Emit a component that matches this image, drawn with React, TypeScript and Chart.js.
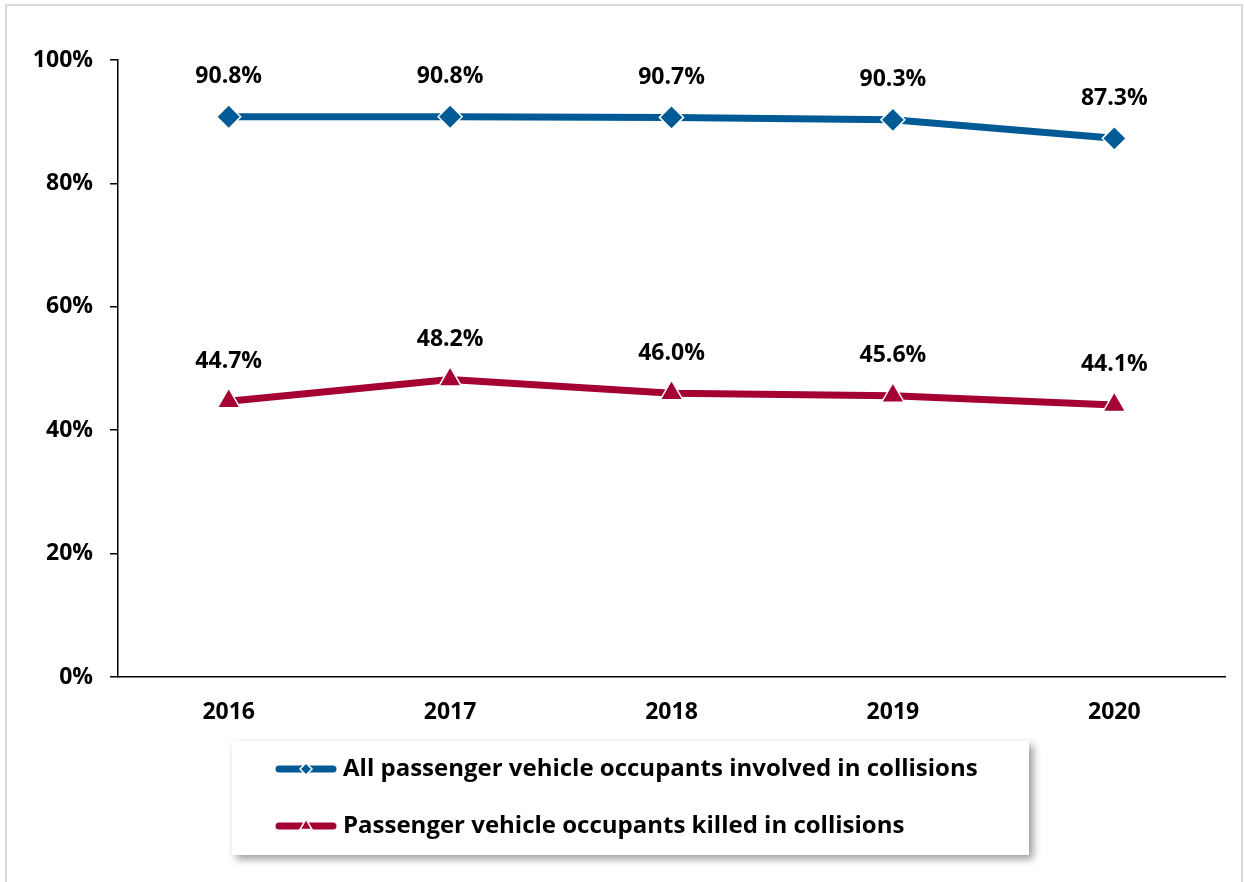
import React, { useEffect, useRef } from "react";
import { Chart, registerables } from "chart.js";

Chart.register(...registerables);

const years = ["2016", "2017", "2018", "2019", "2020"];
const involvedValues = [90.8, 90.8, 90.7, 90.3, 87.3];
const killedValues = [44.7, 48.2, 46.0, 45.6, 44.1];
const seriesLabels = [
  "All passenger vehicle occupants involved in collisions",
  "Passenger vehicle occupants killed in collisions",
];
const yTickStep = 20;
const yMax = 100;

const BLUE = "#005A96";
const RED = "#A50034";
const FONT = "'Open Sans', sans-serif";

const dataLabelPlugin = {
  id: "dataLabels",
  afterDatasetsDraw(chart: any) {
    const ctx = chart.ctx;
    ctx.save();
    ctx.font = `bold 23px ${FONT}`;
    ctx.fillStyle = "#000";
    ctx.textAlign = "center";
    ctx.textBaseline = "middle";
    chart.data.datasets.forEach((ds: any, i: number) => {
      const meta = chart.getDatasetMeta(i);
      meta.data.forEach((pt: any, j: number) => {
        ctx.fillText(ds.data[j].toFixed(1) + "%", pt.x, pt.y - 40);
      });
    });
    ctx.restore();
  },
};

const boxLegendPlugin = {
  id: "boxLegend",
  afterDraw(chart: any) {
    const ctx = chart.ctx;
    const bx = 232, by = 741, bw = 797, bh = 114;
    ctx.save();
    ctx.shadowColor = "rgba(0,0,0,0.4)";
    ctx.shadowBlur = 8;
    ctx.shadowOffsetX = 4;
    ctx.shadowOffsetY = 4;
    ctx.fillStyle = "#fff";
    ctx.fillRect(bx, by, bw, bh);
    ctx.restore();

    const rows = [769, 826];
    chart.data.datasets.forEach((ds: any, i: number) => {
      const y = rows[i];
      ctx.save();
      ctx.strokeStyle = ds.borderColor;
      ctx.lineWidth = 7;
      ctx.lineCap = "round";
      ctx.beginPath();
      ctx.moveTo(279, y);
      ctx.lineTo(333, y);
      ctx.stroke();
      ctx.fillStyle = ds.borderColor;
      ctx.strokeStyle = "#fff";
      ctx.lineWidth = 1.5;
      ctx.beginPath();
      if (ds.pointStyle === "rectRot") {
        const r = 6;
        ctx.moveTo(306, y - r);
        ctx.lineTo(306 + r, y);
        ctx.lineTo(306, y + r);
        ctx.lineTo(306 - r, y);
      } else {
        const r = 7;
        ctx.moveTo(306, y - r);
        ctx.lineTo(306 + r * 0.866, y + r * 0.5);
        ctx.lineTo(306 - r * 0.866, y + r * 0.5);
      }
      ctx.closePath();
      ctx.fill();
      ctx.stroke();
      ctx.fillStyle = "#000";
      ctx.font = `bold 24px ${FONT}`;
      ctx.textAlign = "left";
      ctx.textBaseline = "middle";
      ctx.fillText(ds.label, 343, y);
      ctx.restore();
    });
  },
};

export default function App() {
  const canvasRef = useRef<HTMLCanvasElement | null>(null);

  useEffect(() => {
    if (!canvasRef.current) return;
    const tickFont = { family: FONT, size: 23, weight: "bold" as const };
    const chart = new Chart(canvasRef.current, {
      type: "line",
      data: {
        labels: years,
        datasets: [
          {
            label: seriesLabels[0],
            data: involvedValues,
            borderColor: BLUE,
            backgroundColor: BLUE,
            borderWidth: 7,
            pointStyle: "rectRot",
            pointRadius: 12,
            pointBorderColor: "#fff",
            pointBorderWidth: 1.5,
            pointBackgroundColor: BLUE,
            tension: 0,
          },
          {
            label: seriesLabels[1],
            data: killedValues,
            borderColor: RED,
            backgroundColor: RED,
            borderWidth: 7,
            pointStyle: "triangle",
            pointRadius: 13,
            pointBorderColor: "#fff",
            pointBorderWidth: 1.5,
            pointBackgroundColor: RED,
            tension: 0,
          },
        ],
      },
      options: {
        responsive: false,
        animation: false,
        layout: { padding: { left: 0, right: 19, top: 60, bottom: 0 } },
        plugins: {
          legend: { display: false },
          tooltip: { enabled: false },
        },
        scales: {
          x: {
            offset: true,
            grid: { display: true, drawOnChartArea: false, drawTicks: false },
            border: { display: true, color: "#000", width: 1.5 },
            ticks: { font: tickFont, color: "#000", padding: 22 },
            afterFit: (s: any) => {
              s.height = 205;
            },
          },
          y: {
            min: 0,
            max: yMax,
            ticks: {
              stepSize: yTickStep,
              font: tickFont,
              color: "#000",
              padding: 17,
              callback: (v: any) => v + "%",
            },
            grid: {
              display: true,
              drawOnChartArea: false,
              drawTicks: true,
              tickLength: 8,
              color: "#000",
              lineWidth: 1.5,
            },
            border: { display: true, color: "#000", width: 1.5 },
            afterFit: (s: any) => {
              s.width = 118;
            },
          },
        },
      },
      plugins: [dataLabelPlugin, boxLegendPlugin],
    });
    return () => chart.destroy();
  }, []);

  return (
    <div
      style={{
        position: "absolute",
        left: 0,
        top: 0,
        width: 1244,
        height: 882,
        overflow: "hidden",
        background: "#fff",
      }}
    >
      <div
        style={{
          position: "absolute",
          left: 5,
          top: 4,
          width: 1234,
          height: 900,
          border: "2px solid #d9d9d9",
        }}
      />
      <canvas
        ref={canvasRef}
        width={1244}
        height={882}
        style={{ position: "absolute", left: 0, top: 0, width: 1244, height: 882 }}
      />
    </div>
  );
}
